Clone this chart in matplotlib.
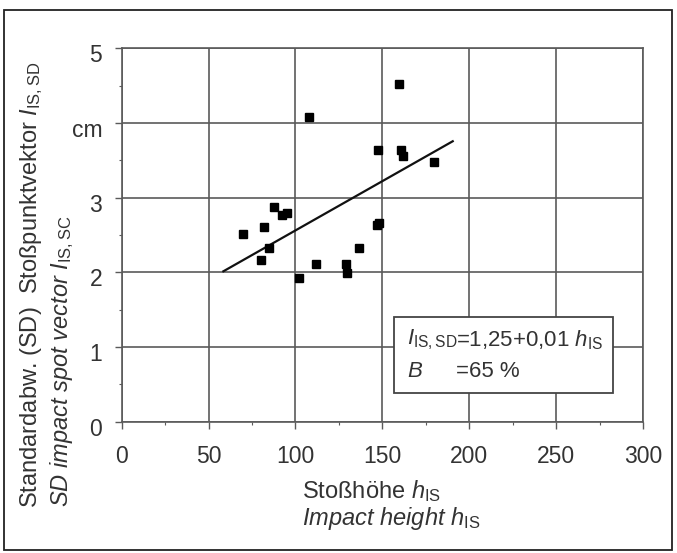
import matplotlib
matplotlib.use('Agg')
import matplotlib.pyplot as plt
from matplotlib.patches import Rectangle
from matplotlib.ticker import MultipleLocator, FixedLocator
import matplotlib.transforms as mtransforms

plt.rcParams['font.family'] = ['Liberation Sans', 'DejaVu Sans']
plt.rcParams['mathtext.fontset'] = 'custom'
plt.rcParams['mathtext.rm'] = 'Liberation Sans'
plt.rcParams['mathtext.it'] = 'Liberation Sans:italic'
plt.rcParams['mathtext.bf'] = 'Liberation Sans:bold'

# ---- data ----
impact_height = [70.0, 81.9, 87.6, 92.3, 95.0, 84.9, 80.0, 102.2, 111.8, 107.8,
                 129.1, 129.5, 136.7, 147.5, 146.7, 148.2, 159.7, 160.6, 161.7, 179.9]
sd_vector = [2.51, 2.61, 2.88, 2.76, 2.80, 2.32, 2.17, 1.92, 2.11, 4.08,
             2.11, 1.99, 2.32, 3.64, 2.63, 2.66, 4.52, 3.64, 3.56, 3.48]
fit_x = [58.5, 190.5]
fit_intercept = 1.24
fit_slope = 0.0132
x_ticks = [0, 50, 100, 150, 200, 250, 300]
x_tick_labels = ['0', '50', '100', '150', '200', '250', '300']
y_ticks = [0, 1, 2, 3, 4, 5]
y_tick_labels = ['0', '1', '2', '3', 'cm', '5']

TXT = '#333333'
GRID = '#5a5a5a'
FS = 17

W, H = 677, 553
fig = plt.figure(figsize=(W / 100, H / 100), dpi=100)

def px(x, y):
    return x / W, 1 - y / H

ax_l, ax_r, ax_t, ax_b = 121.7, 643.0, 48.3, 421.5
ax = fig.add_axes([ax_l / W, 1 - ax_b / H, (ax_r - ax_l) / W, (ax_b - ax_t) / H])
ax.set_xlim(0, 300)
ax.set_ylim(0, 5)

ax.xaxis.set_major_locator(FixedLocator(x_ticks))
ax.set_xticklabels(x_tick_labels)
ax.yaxis.set_major_locator(FixedLocator(y_ticks))
ax.set_yticklabels(y_tick_labels)
ax.xaxis.set_minor_locator(MultipleLocator(25))
ax.yaxis.set_minor_locator(MultipleLocator(0.5))

ax.grid(True, which='major', color=GRID, linewidth=1.2)
ax.set_axisbelow(True)
for s in ax.spines.values():
    s.set_color(GRID)
    s.set_linewidth(1.2)

ax.tick_params(axis='both', which='major', direction='out', length=5, width=1.0,
               color=GRID, labelsize=16.5, labelcolor=TXT)
ax.tick_params(axis='y', which='major', pad=9)
ax.tick_params(axis='x', which='major', pad=12)
ax.tick_params(axis='both', which='minor', direction='out', length=2.5, width=0.8, color=GRID)

off = mtransforms.ScaledTranslation(0, -5 / 100, fig.dpi_scale_trans)
for lab in ax.get_yticklabels():
    lab.set_transform(lab.get_transform() + off)

# data
ax.plot(impact_height, sd_vector, linestyle='none', marker='s', markersize=5.5,
        color='black', zorder=5, clip_on=False)
fy = [fit_intercept + fit_slope * x for x in fit_x]
ax.plot(fit_x, fy, color='#111111', linewidth=1.6, zorder=4)

# legend box
LFS = 16
t1 = ax.text(164.0, 1.092, r'$I_{\mathrm{IS,SD}}$', fontsize=LFS, color=TXT, va='center', ha='left', zorder=7)
t2 = ax.text(192.4, 1.092, r'=1,25+0,01 $h_{\mathrm{IS}}$', fontsize=LFS, color=TXT, va='center', ha='left', zorder=7)
t3 = ax.text(164.0, 0.667, r'$B$', fontsize=LFS, color=TXT, va='center', ha='left', zorder=7)
t4 = ax.text(192.4, 0.667, '=65 %', fontsize=LFS, color=TXT, va='center', ha='left', zorder=7)
fig.canvas.draw()
r = fig.canvas.get_renderer()
xr_px = t2.get_window_extent(r).x1 + 10
xr_data = ax.transData.inverted().transform((xr_px, 0))[0]
box = Rectangle((156.7, 0.378), xr_data - 156.7, 1.396 - 0.378, facecolor='white',
                edgecolor='#444444', linewidth=1.3, zorder=6)
ax.add_patch(box)

# x label
fig.text(*px(301.7, 490.7), r'Stoßhöhe $h_{\mathrm{IS}}$', fontsize=FS, color=TXT,
         ha='left', va='center')
fig.text(*px(301.7, 518.0), r'Impact height $h_{\mathrm{IS}}$', fontsize=FS, color=TXT,
         ha='left', va='center', style='italic')

# y label
fig.text(*px(32, 508), r'Standardabw. (SD)  Stoßpunktvektor $I_{\mathrm{IS,SD}}$', fontsize=FS,
         color=TXT, rotation=90, rotation_mode='anchor', ha='left', va='center')
fig.text(*px(62, 507), r'SD impact spot vector $I_{\mathrm{IS,SC}}$', fontsize=FS,
         color=TXT, rotation=90, rotation_mode='anchor', ha='left', va='center', style='italic')

# outer frame
x0, y0 = px(4, 550)
x1, y1 = px(672, 10)
fig.add_artist(Rectangle((x0, y0), x1 - x0, y1 - y0, transform=fig.transFigure,
                         facecolor='none', edgecolor='#222222', linewidth=1.3))

fig.savefig('out.png', dpi=100)
